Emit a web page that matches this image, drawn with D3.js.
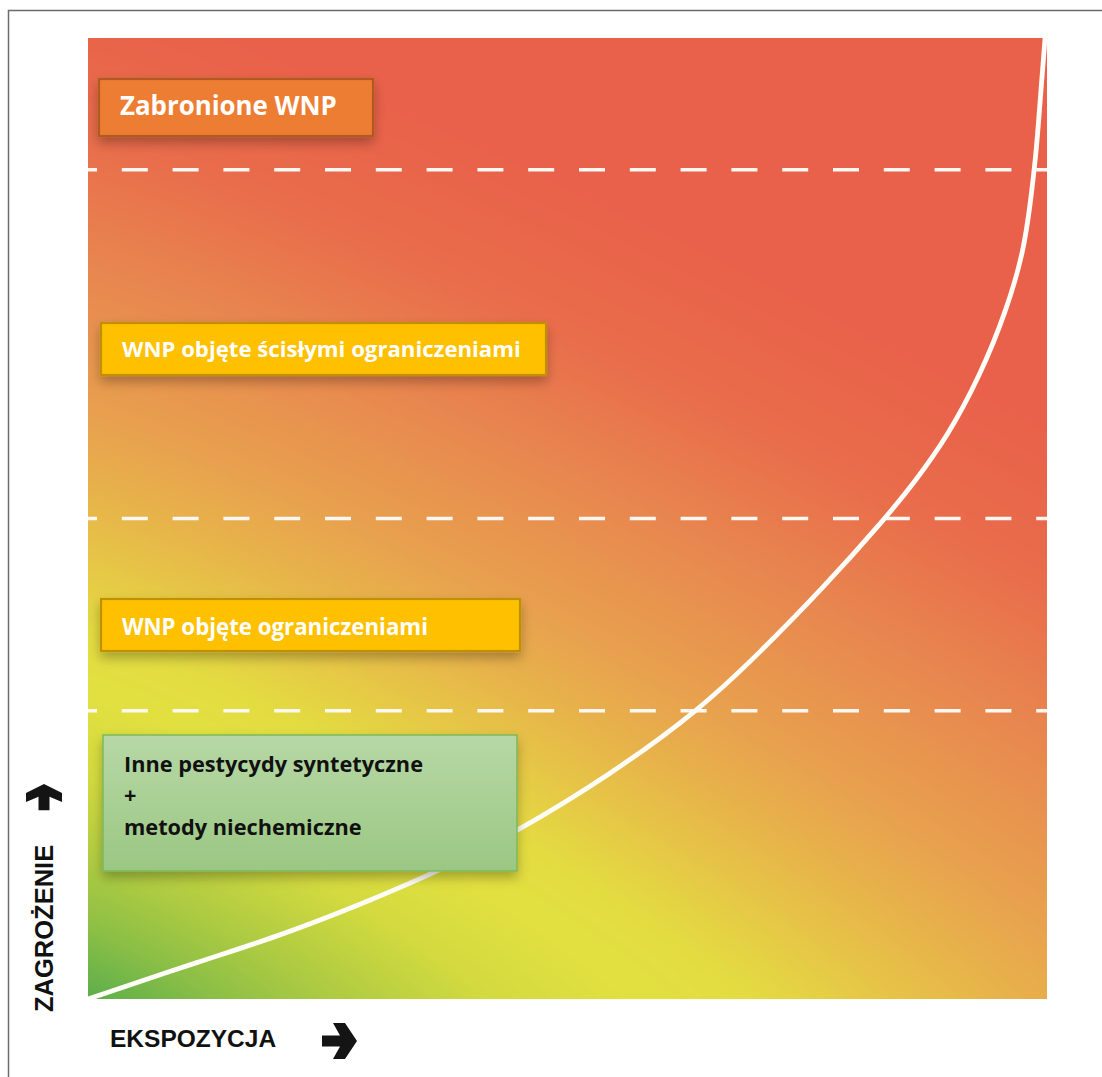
<!DOCTYPE html>
<html><head><meta charset="utf-8">
<script src="https://cdn.jsdelivr.net/npm/d3@7"></script>
<style>body{margin:0;background:#fff;overflow:hidden} svg{display:block}</style>
</head><body>
<script>
// ---- data ----
const hazardLevels = [0.3, 0.5, 0.863];
const curveExposure = [0, 0.122, 0.192, 0.284, 0.370, 0.447, 0.544, 0.638, 0.701, 0.766, 0.833, 0.862, 0.896, 0.930, 0.958, 0.976, 0.983, 0.989, 0.993, 0.998];
const curveHazard   = [0, 0.041, 0.063, 0.098, 0.135, 0.174, 0.233, 0.301, 0.361, 0.427, 0.502, 0.538, 0.585, 0.648, 0.717, 0.779, 0.831, 0.883, 0.937, 1.0];
const categoryLabels = ["Zabronione WNP", "WNP objęte ścisłymi ograniczeniami", "WNP objęte ograniczeniami"];
const greenLines = ["Inne pestycydy syntetyczne", "+", "metody niechemiczne"];
const axisLabels = ["EKSPOZYCJA", "ZAGROŻENIE"];
const gradStops  = [0, 0.07, 0.13, 0.22, 0.30, 0.36, 0.43, 0.50, 0.57, 0.72, 0.86, 1];
const gradColors = ["#5cae4c", "#8cbf46", "#acca42", "#d3da3f", "#e2e040", "#e3dc41", "#e6c746", "#e7b34a", "#e8a24e", "#e8874f", "#e96c4b", "#e9614a"];

// ---- layout ----
const W = 1102, H = 1077;
const plot = {x0: 88, x1: 1047, y0: 38, y1: 999};
const boxes = [
  {x: 99,  y: 79,  w: 274, h: 57, fill: "#ED7D31", stroke: "#AE5A21", tx: 120, ty: 115, tw: 217},
  {x: 101, y: 323, w: 445, h: 52, fill: "#FFC000", stroke: "#BF9000", tx: 122, ty: 357, tw: 399},
  {x: 101, y: 599, w: 419, h: 52, fill: "#FFC000", stroke: "#BF9000", tx: 122, ty: 635, tw: 306}
];
const greenBox = {x: 103, y: 735, w: 414, h: 136, tx: 124, ty: [772, 803, 835], tw: 299};

const svg = d3.select("body").append("svg").attr("width", W).attr("height", H);
const defs = svg.append("defs");
const sh = defs.append("filter").attr("id", "shadow").attr("x", "-10%").attr("y", "-20%").attr("width", "120%").attr("height", "160%");
sh.append("feDropShadow").attr("dx", 0).attr("dy", 6).attr("stdDeviation", 6).attr("flood-color", "#000").attr("flood-opacity", 0.28);
const gg = defs.append("linearGradient").attr("id", "greenFill").attr("x1", 0).attr("y1", 0).attr("x2", 0).attr("y2", 1);
gg.append("stop").attr("offset", 0).attr("stop-color", "#b7d8a6");
gg.append("stop").attr("offset", 1).attr("stop-color", "#9bc783");

const x = d3.scaleLinear().domain([0, 1]).range([plot.x0, plot.x1]);
const y = d3.scaleLinear().domain([0, 1]).range([plot.y1, plot.y0]);

// background gradient field drawn on a canvas
const cw = Math.round(plot.x1 - plot.x0), ch = Math.round(plot.y1 - plot.y0);
const canvas = document.createElement("canvas");
canvas.width = cw; canvas.height = ch;
const ctx = canvas.getContext("2d");
const img = ctx.createImageData(cw, ch);
const color = d3.scaleLinear().domain(gradStops).range(gradColors).interpolate(d3.interpolateRgb).clamp(true);
const lut = d3.range(512).map(i => d3.rgb(color(i / 511)));
const a = 1.9, b = 1.05, p = 1.15;
for (let j = 0; j < ch; j++) {
  const vy = 1 - j / (ch - 1);
  for (let i = 0; i < cw; i++) {
    const vx = i / (cw - 1);
    const t = Math.pow(Math.pow(vx / a, p) + Math.pow(vy / b, p), 1 / p);
    const c = lut[Math.min(511, Math.round(t * 511))];
    const k = (j * cw + i) * 4;
    img.data[k] = c.r; img.data[k + 1] = c.g; img.data[k + 2] = c.b; img.data[k + 3] = 255;
  }
}
ctx.putImageData(img, 0, 0);
svg.append("image").attr("x", plot.x0).attr("y", plot.y0).attr("width", cw).attr("height", ch)
  .attr("preserveAspectRatio", "none").attr("href", canvas.toDataURL());

// frame
svg.append("rect").attr("x", 8.5).attr("y", 10.5).attr("width", 1100).attr("height", 1080)
  .attr("fill", "none").attr("stroke", "#6b6b6b").attr("stroke-width", 1.5);

// dashed threshold lines
svg.selectAll("line.th").data(hazardLevels).join("line").attr("class", "th")
  .attr("x1", plot.x0).attr("x2", plot.x1).attr("y1", d => y(d)).attr("y2", d => y(d))
  .attr("stroke", "#fff8f2").attr("stroke-width", 3.5)
  .attr("stroke-dasharray", "26 24.8").attr("stroke-dashoffset", 17);

// exposure curve
const pts = curveExposure.map((e, i) => [e, curveHazard[i]]);
svg.append("path").datum(pts)
  .attr("d", d3.line().x(d => x(d[0])).y(d => y(d[1])).curve(d3.curveBasis))
  .attr("fill", "none").attr("stroke", "#fffdf8").attr("stroke-width", 4.8);

// category boxes
const FONT = "'Open Sans', 'Noto Sans', sans-serif";
const bg = svg.selectAll("g.box").data(boxes).join("g").attr("class", "box");
bg.append("rect").attr("x", d => d.x).attr("y", d => d.y).attr("width", d => d.w).attr("height", d => d.h)
  .attr("fill", d => d.fill).attr("stroke", d => d.stroke).attr("stroke-width", 2.2).attr("filter", "url(#shadow)");
bg.append("text").attr("x", d => d.tx).attr("y", d => d.ty)
  .attr("fill", "#fff").attr("font-family", FONT).attr("font-weight", 700).attr("font-size", 20)
  .text((d, i) => categoryLabels[i])
  .each(function(d) { const L = this.getComputedTextLength(); d3.select(this).attr("font-size", 20 * d.tw / L); });

// green box
svg.append("rect").attr("x", greenBox.x).attr("y", greenBox.y).attr("width", greenBox.w).attr("height", greenBox.h)
  .attr("fill", "url(#greenFill)").attr("stroke", "#7cb95b").attr("stroke-width", 1.5).attr("filter", "url(#shadow)");
const gt = svg.selectAll("text.g").data(greenLines).join("text").attr("class", "g")
  .attr("x", greenBox.tx).attr("y", (d, i) => greenBox.ty[i])
  .attr("fill", "#111").attr("font-family", FONT).attr("font-weight", 700).attr("font-size", 20)
  .text(d => d);
const gfs = 20 * greenBox.tw / gt.nodes()[0].getComputedTextLength();
gt.attr("font-size", gfs);

// axis titles
svg.append("text").attr("x", 110).attr("y", 1047).attr("font-family", "'Liberation Sans', Arial, sans-serif")
  .attr("font-weight", 700).attr("font-size", 24.5).attr("fill", "#111").text(axisLabels[0]);
svg.append("text").attr("transform", "translate(53,1012) rotate(-90)").attr("font-family", "'Liberation Sans', Arial, sans-serif")
  .attr("font-weight", 700).attr("font-size", 25.5).attr("fill", "#111").text(axisLabels[1]);

// arrows
const arrowPath = "M-35,-5.5 L-17,-5.5 L-24,-18 L-12,-18 L0,0 L-12,18 L-24,18 L-17,5.5 L-35,5.5 Z";
svg.append("path").attr("d", arrowPath).attr("fill", "#141414").attr("transform", "translate(357,1041)");
svg.append("path").attr("d", arrowPath).attr("fill", "#141414").attr("transform", "translate(44,784) rotate(-90) scale(0.75,1)");
</script>
</body></html>
